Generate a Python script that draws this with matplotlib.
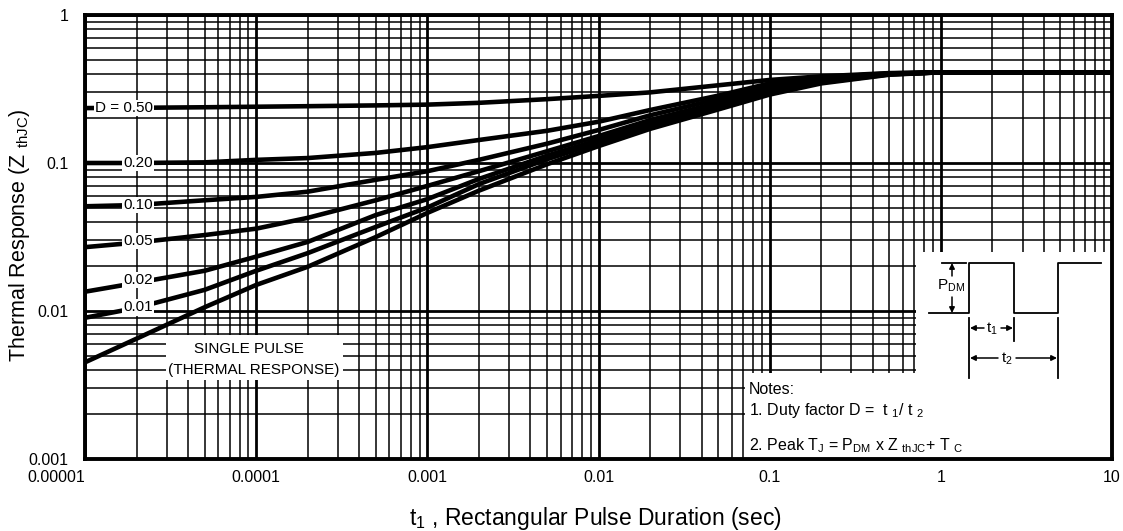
import matplotlib
matplotlib.use("Agg")
import matplotlib.pyplot as plt
from matplotlib.patches import Rectangle
from matplotlib.lines import Line2D

plt.rcParams['font.family'] = ['Liberation Sans', 'DejaVu Sans']
plt.rcParams['mathtext.default'] = 'regular'

# ---------------- data ----------------
t = [1e-5, 2e-5, 5e-5, 1e-4, 2e-4, 5e-4, 1e-3, 2e-3, 5e-3, 1e-2, 2e-2, 5e-2, 0.1, 0.2, 0.5, 1, 10]
z_d50 = [0.235, 0.236, 0.238, 0.24, 0.242, 0.245, 0.248, 0.255, 0.27, 0.284, 0.30, 0.335, 0.364, 0.385, 0.405, 0.41, 0.41]
z_d20 = [0.10, 0.10, 0.101, 0.105, 0.108, 0.117, 0.128, 0.143, 0.165, 0.19, 0.228, 0.285, 0.345, 0.378, 0.403, 0.41, 0.41]
z_d10 = [0.051, 0.052, 0.056, 0.059, 0.064, 0.077, 0.088, 0.105, 0.135, 0.167, 0.21, 0.27, 0.33, 0.37, 0.40, 0.41, 0.41]
z_d05 = [0.027, 0.029, 0.0326, 0.036, 0.0426, 0.056, 0.07, 0.088, 0.12, 0.152, 0.195, 0.255, 0.315, 0.362, 0.40, 0.41, 0.41]
z_d02 = [0.0135, 0.0155, 0.0187, 0.0233, 0.0293, 0.0445, 0.057, 0.078, 0.112, 0.143, 0.185, 0.245, 0.305, 0.356, 0.398, 0.41, 0.41]
z_d01 = [0.009, 0.0105, 0.0139, 0.0187, 0.0246, 0.037, 0.05, 0.072, 0.106, 0.137, 0.178, 0.24, 0.298, 0.35, 0.397, 0.41, 0.41]
z_single = [0.0045, 0.0065, 0.0106, 0.015, 0.0199, 0.0316, 0.046, 0.065, 0.098, 0.13, 0.17, 0.23, 0.29, 0.345, 0.395, 0.41, 0.41]

curves = [z_d50, z_d20, z_d10, z_d05, z_d02, z_d01, z_single]
curve_labels = ["D = 0.50", "0.20", "0.10", "0.05", "0.02", "0.01"]
label_x = 2.5e-5
label_y = [0.235, 0.1, 0.052, 0.0297, 0.0162, 0.0106]

x_ticks = [1e-5, 1e-4, 1e-3, 1e-2, 1e-1, 1, 10]
x_ticklabels = ["0.00001", "0.0001", "0.001", "0.01", "0.1", "1", "10"]
y_ticks = [1e-3, 1e-2, 1e-1, 1]
y_ticklabels = ["0.001", "0.01", "0.1", "1"]

# ---------------- figure ----------------
W, H = 1123, 531
fig = plt.figure(figsize=(W / 100, H / 100), dpi=100)
AX_L, AX_R, AX_T, AX_B = 85, 1112, 15, 459
ax = fig.add_axes([AX_L / W, 1 - AX_B / H, (AX_R - AX_L) / W, (AX_B - AX_T) / H])


def px(x, y):
    """reference pixel -> axes fraction (for annotation artwork only)"""
    return (x - AX_L) / (AX_R - AX_L), (AX_B - y) / (AX_B - AX_T)


ax.set_xscale('log')
ax.set_yscale('log')
ax.set_xlim(1e-5, 10)
ax.set_ylim(1e-3, 1)
ax.set_axisbelow(True)

ax.set_xticks(x_ticks)
ax.set_xticklabels(x_ticklabels, fontsize=11.5)
ax.set_yticks(y_ticks)
ax.set_yticklabels(y_ticklabels, fontsize=11.5)
ax.tick_params(which='both', length=0)
ax.tick_params(axis='x', pad=8)
ax.tick_params(axis='y', pad=12)
ax.get_xticklabels()[0].set_horizontalalignment('right')

ax.grid(which='major', color='black', lw=2.0)
ax.grid(which='minor', color='black', lw=1.1)
for s in ax.spines.values():
    s.set_linewidth(2.8)
    s.set_color('black')

# curves
for z in curves:
    ax.plot(t, z, color='black', lw=3.3, solid_capstyle='butt', zorder=3)

# curve labels
for lab, yv in zip(curve_labels, label_y):
    ax.text(label_x, yv, lab, ha='right', va='center', fontsize=11, zorder=5,
            bbox=dict(facecolor='white', edgecolor='none', pad=1.0))

# white areas (inset + notes + single pulse label)
def white_box(x0, y0, x1, y1):
    a0 = px(x0, y1)
    a1 = px(x1, y0)
    ax.add_patch(Rectangle(a0, a1[0] - a0[0], a1[1] - a0[1], transform=ax.transAxes,
                           facecolor='white', edgecolor='none', zorder=1))

white_box(916, 252, AX_R, 373)
white_box(745, 373, AX_R, AX_B)
white_box(166, 335, 343, 380)

ax.text(*px(249, 349), "SINGLE PULSE", transform=ax.transAxes, ha='center', va='center',
        fontsize=11, zorder=4)
ax.text(*px(254, 370), "(THERMAL RESPONSE)", transform=ax.transAxes, ha='center', va='center',
        fontsize=11, zorder=4)

# pulse waveform inset
def seg(pts, lw=1.3):
    xs, ys = zip(*[px(a, b) for a, b in pts])
    ax.add_line(Line2D(xs, ys, transform=ax.transAxes, color='black', lw=lw, zorder=4))

seg([(929, 313), (969, 313), (969, 263), (1014, 263), (1014, 313), (1058, 313), (1058, 263), (1101, 263)])
seg([(942, 263), (966, 263)])
seg([(969, 318), (969, 378)])
seg([(1014, 318), (1014, 341)])
seg([(1058, 318), (1058, 378)])


def arrow(x0, y0, x1, y1):
    ax.annotate('', xy=px(x1, y1), xytext=px(x0, y0), xycoords='axes fraction',
                textcoords='axes fraction',
                arrowprops=dict(arrowstyle='-|>', color='black', lw=1.1, mutation_scale=8,
                                shrinkA=0, shrinkB=0), zorder=4)

arrow(952, 276, 952, 263)
arrow(952, 297, 952, 313)
ax.text(*px(951, 286), "P$_{DM}$", transform=ax.transAxes, ha='center', va='center',
        fontsize=11, zorder=4)
arrow(984, 328, 970, 328)
arrow(1001, 328, 1013, 328)
ax.text(*px(992, 329), "t$_1$", transform=ax.transAxes, ha='center', va='center',
        fontsize=11, zorder=4)
arrow(998, 358, 970, 358)
arrow(1016, 358, 1057, 358)
ax.text(*px(1007, 359), "t$_2$", transform=ax.transAxes, ha='center', va='center',
        fontsize=11, zorder=4)

# notes
ax.text(*px(749, 389), "Notes:", transform=ax.transAxes, ha='left', va='center', fontsize=11.5, zorder=4)
ax.text(*px(749, 410), "1. Duty factor D =  t $_1$/ t $_2$", transform=ax.transAxes, ha='left',
        va='center', fontsize=11.5, zorder=4)
ax.text(*px(749, 446), "2. Peak T$_J$ = P$_{DM}$ x Z $_{thJC}$+ T $_C$", transform=ax.transAxes,
        ha='left', va='center', fontsize=11.5, zorder=4)

# axis titles
fig.text(20 / W, 1 - 235 / H, "Thermal Response (Z $_{thJC}$)", rotation=90, ha='center',
         va='center', fontsize=15.5)
fig.text(595 / W, 1 - 518 / H, "t$_1$ , Rectangular Pulse Duration (sec)", ha='center',
         va='center', fontsize=16.5)

fig.savefig("out.png", dpi=100, facecolor='white')
